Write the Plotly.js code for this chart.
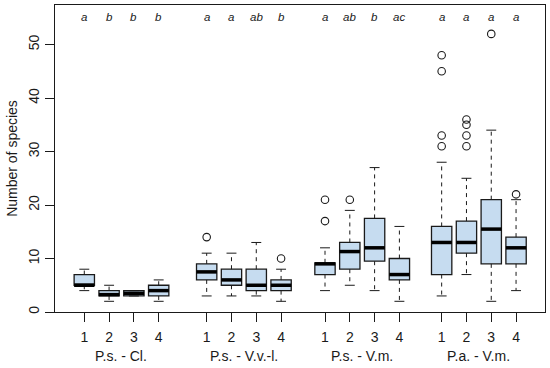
<!DOCTYPE html>
<html>
<head>
<meta charset="utf-8">
<script src="https://cdn.plot.ly/plotly-3.0.1.min.js"></script>
<style>html,body{margin:0;padding:0;background:#fff;}#chart{width:550px;height:368px;}</style>
</head>
<body>
<div id="chart"></div>
<script>
// ---- data ----
const groups = ["P.s. - Cl.", "P.s. - V.v.-l.", "P.s. - V.m.", "P.a. - V.m."];
const subLabels = ["1", "2", "3", "4"];
const lowerWhisker = [4, 2, 3, 2,   3, 3, 3, 2,   4, 5, 4, 2,    3, 7, 2, 4];
const q1           = [5, 3, 3, 3,   6, 5, 4, 4,   7, 8, 9.5, 6,  7, 11, 9, 9];
const median       = [5, 3.25, 3.5, 4,  7.5, 6, 5, 5,  9, 11.3, 12, 7,  13, 13, 15.5, 12];
const q3           = [7, 4, 4, 5,   9, 8, 8, 6,   9.2, 13, 17.5, 10,  16, 17, 21, 14];
const upperWhisker = [8, 5, 4, 6,   11, 11, 13, 8,  12, 19, 27, 16,  28, 25, 34, 21];
const outliers = [[], [], [], [],  [14], [], [], [10],  [17, 21], [21], [], [],
                  [31, 33, 45, 48], [31, 33, 35, 36], [52], [22]];
const letters = ["a", "b", "b", "b",  "a", "a", "ab", "b",  "a", "ab", "b", "ac",  "a", "a", "a", "a"];
const yTicks = [0, 10, 20, 30, 40, 50];

// ---- layout constants ----
const groupStart = [1, 5.935, 10.706, 15.41];
const boxW = 0.82, capHalf = 0.2, letterY = 55.2;
const FONT = "Liberation Sans, Arial, sans-serif";
const INK = "#1a1a1a";

const xs = [];
groups.forEach((g, gi) => subLabels.forEach((s, si) => xs.push(groupStart[gi] + si)));

const traces = [];
// whiskers (dashed)
const wx = [], wy = [];
xs.forEach((x, i) => {
  if (upperWhisker[i] > q3[i]) { wx.push(x, x, null); wy.push(q3[i], upperWhisker[i], null); }
  if (lowerWhisker[i] < q1[i]) { wx.push(x, x, null); wy.push(q1[i], lowerWhisker[i], null); }
});
traces.push({type: "scatter", mode: "lines", x: wx, y: wy, line: {color: INK, width: 1, dash: "4px,4px"}, hoverinfo: "skip", showlegend: false});
// caps
const cx = [], cy = [];
xs.forEach((x, i) => {
  cx.push(x - capHalf, x + capHalf, null); cy.push(upperWhisker[i], upperWhisker[i], null);
  cx.push(x - capHalf, x + capHalf, null); cy.push(lowerWhisker[i], lowerWhisker[i], null);
});
traces.push({type: "scatter", mode: "lines", x: cx, y: cy, line: {color: INK, width: 1}, hoverinfo: "skip", showlegend: false});
// boxes
traces.push({
  type: "box", x: xs, q1: q1, median: median, q3: q3,
  lowerfence: q1, upperfence: q3, width: boxW, whiskerwidth: 0,
  fillcolor: "#c6dcf0", line: {color: INK, width: 1.3}, boxpoints: false,
  hoverinfo: "skip", showlegend: false
});
// medians (thick)
const mx = [], my = [];
xs.forEach((x, i) => { mx.push(x - boxW / 2, x + boxW / 2, null); my.push(median[i], median[i], null); });
traces.push({type: "scatter", mode: "lines", x: mx, y: my, line: {color: "#000", width: 3.5}, hoverinfo: "skip", showlegend: false});
// outliers
const ox = [], oy = [];
xs.forEach((x, i) => outliers[i].forEach(v => { ox.push(x); oy.push(v); }));
traces.push({type: "scatter", mode: "markers", x: ox, y: oy,
  marker: {symbol: "circle-open", size: 7.5, color: INK, line: {width: 1.1, color: INK}},
  hoverinfo: "skip", showlegend: false});

const annotations = [];
xs.forEach((x, i) => annotations.push({
  x: x, y: letterY, xref: "x", yref: "y", text: letters[i], showarrow: false,
  font: {family: FONT, size: 11.5, color: INK, style: "italic"}, xanchor: "center", yanchor: "middle"
}));
groups.forEach((g, gi) => annotations.push({
  x: groupStart[gi] + 1.5, y: 0, xref: "x", yref: "paper", yanchor: "top", yshift: -34,
  text: g, showarrow: false, font: {family: FONT, size: 14, color: INK}
}));

const layout = {
  width: 550, height: 368,
  margin: {l: 55, r: 5, t: 5, b: 56, pad: 0},
  paper_bgcolor: "#fff", plot_bgcolor: "#fff",
  font: {family: FONT, size: 14, color: INK},
  showlegend: false,
  xaxis: {
    range: [-0.181, 19.577], showgrid: false, zeroline: false,
    showline: true, mirror: true, linecolor: INK, linewidth: 1,
    tickmode: "array", tickvals: xs, ticktext: xs.map((x, i) => subLabels[i % 4]),
    ticks: "outside", ticklen: 9, tickwidth: 1, tickcolor: INK, ticklabelstandoff: 3,
    tickfont: {family: FONT, size: 14, color: INK}
  },
  yaxis: {
    range: [0, 57.4], showgrid: false, zeroline: false,
    showline: true, mirror: true, linecolor: INK, linewidth: 1,
    tickmode: "array", tickvals: yTicks, ticktext: yTicks.map(String),
    ticks: "outside", ticklen: 9, tickwidth: 1, tickcolor: INK, tickangle: -90,
    tickfont: {family: FONT, size: 14, color: INK},
    title: {text: "Number of species", font: {family: FONT, size: 14, color: INK}, standoff: 5}
  },
  annotations: annotations
};

Plotly.newPlot("chart", traces, layout, {staticPlot: true, displayModeBar: false});
</script>
</body>
</html>
